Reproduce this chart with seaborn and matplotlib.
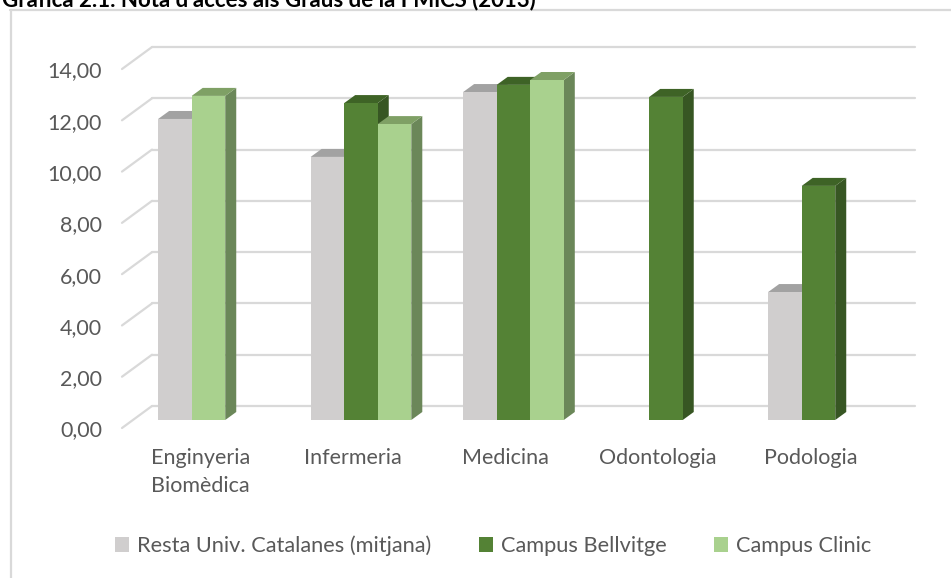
import numpy as np
import pandas as pd
import matplotlib.pyplot as plt
import matplotlib.patches as mpatches
from matplotlib.colors import to_hex
from matplotlib.lines import Line2D
from matplotlib.transforms import ScaledTranslation
import seaborn as sns

# Data
categories = ['Enginyeria\nBiomèdica', 'Infermeria', 'Medicina', 'Odontologia', 'Podologia']
series = ['Resta Univ. Catalanes (mitjana)', 'Campus Bellvitge', 'Campus Clinic']
resta = [11.74, 10.26, 12.79, np.nan, 4.99]
bellvitge = [np.nan, 12.36, 13.07, 12.60, 9.13]
clinic = [12.64, 11.54, 13.26, np.nan, np.nan]
y_ticks = [0, 2, 4, 6, 8, 10, 12, 14]
title = "Gràfica 2.1. Nota d'accés als Graus de la FMiCS (2013)"

front_colors = ['#D0CECE', '#548235', '#A9D18E']
top_colors = ['#A2A2A2', '#3E6326', '#7FA065']
side_colors = ['#A6A6A6', '#375623', '#6B8759']
grid_color = '#D9D9D9'
text_color = '#595959'

# in the source the Enginyeria Clinic bar sits one slot to the left
shift_left = {(0, 2)}

df = pd.DataFrame({
    'Grau': categories * 3,
    'Serie': np.repeat(series, len(categories)),
    'Nota': resta + bellvitge + clinic,
}).dropna()

sns.set_style('white')
plt.rcParams['font.family'] = ['Lato', 'DejaVu Sans']
plt.rcParams['font.size'] = 15.5

W, H = 951, 578
fig = plt.figure(figsize=(W / 100, H / 100), dpi=100)
ax = fig.add_axes([122 / W, 1 - 440 / H, (915 - 122) / W, 410 / H])

sns.barplot(data=df, x='Grau', y='Nota', hue='Serie', order=categories,
            hue_order=series, palette=front_colors, width=0.66, saturation=1,
            linewidth=0, errorbar=None, ax=ax)

ax.set_xlim(-0.567, 4.633)
ax.set_ylim(-0.78, 15.21)
ax.set_xlabel('')
ax.set_ylabel('')
for s in ax.spines.values():
    s.set_visible(False)

# pixel -> data conversions for the fake 3D
ux = ax.bbox.width / (ax.get_xlim()[1] - ax.get_xlim()[0])
uy = ax.bbox.height / (ax.get_ylim()[1] - ax.get_ylim()[0])
dx, dy = 11 / ux, 8 / uy
back_up, front_down = 14 / uy, 8 / uy
back_x0 = 30 / ax.bbox.width

# back wall gridlines + slanted side lines
ytrans = ax.get_yaxis_transform()
for t in y_ticks:
    ax.add_line(Line2D([back_x0, 1], [t + back_up] * 2, transform=ytrans,
                       color=grid_color, lw=1.6, zorder=1, clip_on=False))
    ax.add_line(Line2D([0, back_x0], [t - front_down, t + back_up], transform=ytrans,
                       color=grid_color, lw=1.6, zorder=1, clip_on=False))

# collect bars with their series index
all_bars = []
for bar in ax.patches:
    if not isinstance(bar, mpatches.Rectangle) or np.isnan(bar.get_height()):
        continue
    k = front_colors.index(to_hex(bar.get_facecolor()).upper())
    cat = int(round(bar.get_x() + bar.get_width() / 2))
    if (cat, k) in shift_left:
        bar.set_x(bar.get_x() - bar.get_width())
    all_bars.append((bar, k))

all_bars.sort(key=lambda t: t[0].get_x())
for n, (bar, k) in enumerate(all_bars):
    x0 = bar.get_x()
    x1 = x0 + bar.get_width()
    h = bar.get_height()
    z = 2 + n
    bar.set_zorder(z + 0.5)
    ax.add_patch(mpatches.Polygon([(x1, 0), (x1 + dx, dy), (x1 + dx, h + dy), (x1, h)],
                                  closed=True, facecolor=side_colors[k], edgecolor='none', zorder=z))
    ax.add_patch(mpatches.Polygon([(x0, h), (x1, h), (x1 + dx, h + dy), (x0 + dx, h + dy)],
                                  closed=True, facecolor=top_colors[k], edgecolor='none', zorder=z))

# ticks
ax.set_yticks(y_ticks)
ax.set_yticklabels([f'{v:.2f}'.replace('.', ',') for v in y_ticks])
ax.tick_params(axis='y', length=0, pad=14.4, colors=text_color)
ax.tick_params(axis='x', length=0, pad=6, colors=text_color)
for lab in ax.get_yticklabels():
    lab.set_transform(lab.get_transform() + ScaledTranslation(0, -0.085, fig.dpi_scale_trans))
for lab in ax.get_xticklabels():
    lab.set_transform(lab.get_transform() + ScaledTranslation(-0.08, 0, fig.dpi_scale_trans))
    lab.set_linespacing(1.5)

sns.move_legend(ax, 'center', bbox_to_anchor=(493 / W, 1 - 546 / H),
                bbox_transform=fig.transFigure, ncol=3, frameon=False, title=None,
                handlelength=0.65, handleheight=0.65, handletextpad=0.35,
                columnspacing=2.2, labelcolor=text_color, fontsize=15.7)

# chart frame and clipped title (the source crops it at the top edge)
fig.add_artist(Line2D([10 / W, 1], [1 - 10 / H] * 2, color=grid_color, lw=1.6))
fig.add_artist(Line2D([11 / W] * 2, [0, 1 - 10 / H], color=grid_color, lw=1.6))
fig.text(2 / W, 1 - 6 / H, title, ha='left', va='baseline', fontsize=16,
         fontweight='bold', color='black')

fig.savefig('out.png', dpi=100)
